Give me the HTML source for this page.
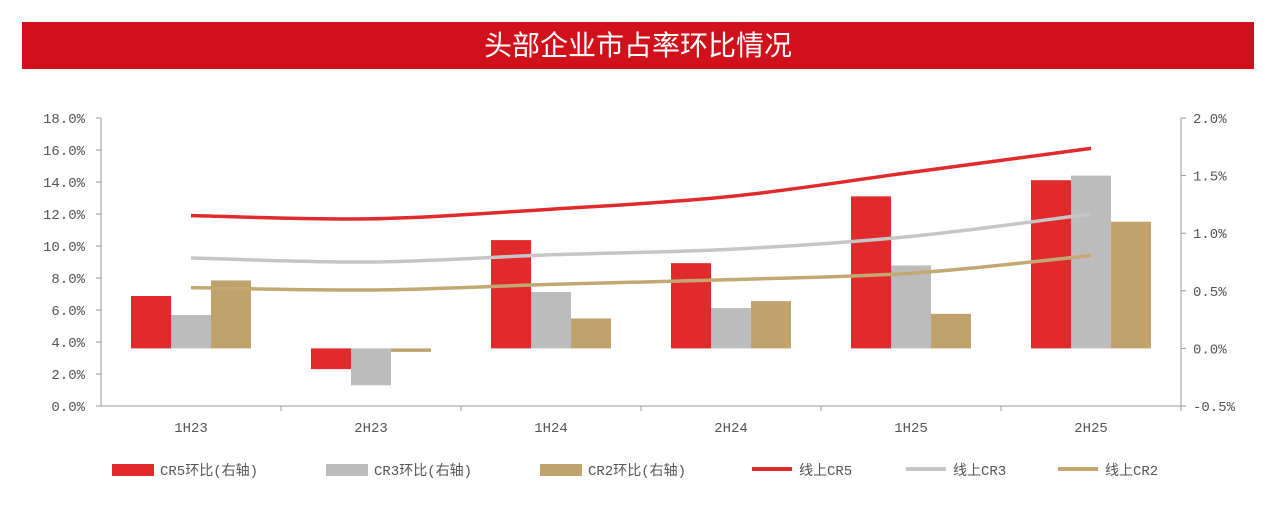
<!DOCTYPE html>
<html><head><meta charset="utf-8"><style>
body{margin:0;background:#fff;width:1280px;height:524px;overflow:hidden}
#title{position:absolute;left:22px;top:22px;width:1232px;height:47px;background:#d0111b;color:#fff;font:28px "Liberation Sans","Noto Sans CJK SC",sans-serif;text-align:center;line-height:47px}
svg{position:absolute;left:0;top:0}
text{font-family:"Liberation Mono","Noto Sans CJK SC",monospace;font-size:14px;fill:#555}
</style></head><body>
<div id="title">头部企业市占率环比情况</div>
<svg id="c" width="1280" height="524"></svg>
<script>
const categories=["1H23","2H23","1H24","2H24","1H25","2H25"];
const cr5Change=[0.455,-0.18,0.94,0.74,1.32,1.46];
const cr3Change=[0.29,-0.32,0.49,0.35,0.72,1.50];
const cr2Change=[0.59,-0.03,0.26,0.41,0.30,1.10];
const cr5Line=[11.9,11.7,12.3,13.1,14.6,16.1];
const cr3Line=[9.25,9.0,9.45,9.8,10.6,12.0];
const cr2Line=[7.4,7.25,7.6,7.9,8.3,9.4];
const leftTicks=[0,2,4,6,8,10,12,14,16,18];
const rightTicks=[-0.5,0,0.5,1.0,1.5,2.0];
const svg=document.getElementById('c');const NS='http://www.w3.org/2000/svg';
function mk(t,a,p){const e=document.createElementNS(NS,t);for(const k in a)e.setAttribute(k,a[k]);(p||svg).appendChild(e);return e;}
const X0=101,X1=1181,Y0=406,Y1=118;
const yL=v=>Y0-(v/18)*(Y0-Y1);
const yR=v=>Y0-((v+0.5)/2.5)*(Y0-Y1);
const bw=(X1-X0)/categories.length;
const xc=i=>X0+bw*(i+0.5);
let e;
e=mk('line',{x1:X0,y1:Y1,x2:X0,y2:Y0,stroke:'#999'});
e=mk('line',{x1:X1,y1:Y1,x2:X1,y2:Y0,stroke:'#999'});
e=mk('line',{x1:X0,y1:Y0,x2:X1,y2:Y0,stroke:'#999'});
leftTicks.forEach(v=>{mk('line',{x1:X0-5,x2:X0,y1:yL(v),y2:yL(v),stroke:'#999'});e=mk('text',{x:X0-16,y:yL(v)+5,'text-anchor':'end'});e.textContent=v.toFixed(1)+'%';});
rightTicks.forEach(v=>{mk('line',{x1:X1,x2:X1+5,y1:yR(v),y2:yR(v),stroke:'#999'});e=mk('text',{x:X1+12,y:yR(v)+5});e.textContent=v.toFixed(1)+'%';});
categories.forEach((c,i)=>{mk('line',{x1:X0+bw*(i+1),x2:X0+bw*(i+1),y1:Y0,y2:Y0+5,stroke:'#999'});e=mk('text',{x:xc(i),y:432,'text-anchor':'middle'});e.textContent=c;});
const series=[[cr5Change,'#e02a2b',-40,'cr5'],[cr3Change,'#bcbcbc',0,'cr3'],[cr2Change,'#bfa26c',40,'cr2']];
series.forEach(([d,col,off,n])=>d.forEach((v,i)=>{const y0=yR(0),y=yR(v);e=mk('rect',{x:xc(i)+off-20,y:Math.min(y,y0),width:40,height:Math.max(Math.abs(y0-y),2),fill:col});}));
function smooth(pts){let d='M'+pts[0][0]+','+pts[0][1];for(let i=0;i<pts.length-1;i++){const p0=pts[i-1]||pts[i],p1=pts[i],p2=pts[i+1],p3=pts[i+2]||p2;d+=' C'+(p1[0]+(p2[0]-p0[0])/6)+','+(p1[1]+(p2[1]-p0[1])/6)+' '+(p2[0]-(p3[0]-p1[0])/6)+','+(p2[1]-(p3[1]-p1[1])/6)+' '+p2[0]+','+p2[1];}return d;}
[[cr5Line,'#e02a2b','cr5'],[cr3Line,'#c6c6c6','cr3'],[cr2Line,'#c4a872','cr2']].forEach(([d,col,n])=>{e=mk('path',{d:smooth(d.map((v,i)=>[xc(i),yL(v)])),fill:'none',stroke:col,'stroke-width':3.5});});
const leg=[['rect','#e02a2b','CR5环比(右轴)',112],['rect','#bcbcbc','CR3环比(右轴)',326],['rect','#bfa26c','CR2环比(右轴)',540],['line','#e02a2b','线上CR5',752],['line','#c6c6c6','线上CR3',906],['line','#c4a872','线上CR2',1058]];
leg.forEach(([t,col,lab,x])=>{const g=mk('g',{});
if(t=='rect')mk('rect',{x:x,y:464,width:42,height:12,fill:col},g);else mk('line',{x1:x,x2:x+40,y1:469,y2:469,stroke:col,'stroke-width':4},g);
const tx=mk('text',{x:x+(t=='rect'?48:47),y:475,'font-size':15},g);tx.textContent=lab;});
</script></body></html>
